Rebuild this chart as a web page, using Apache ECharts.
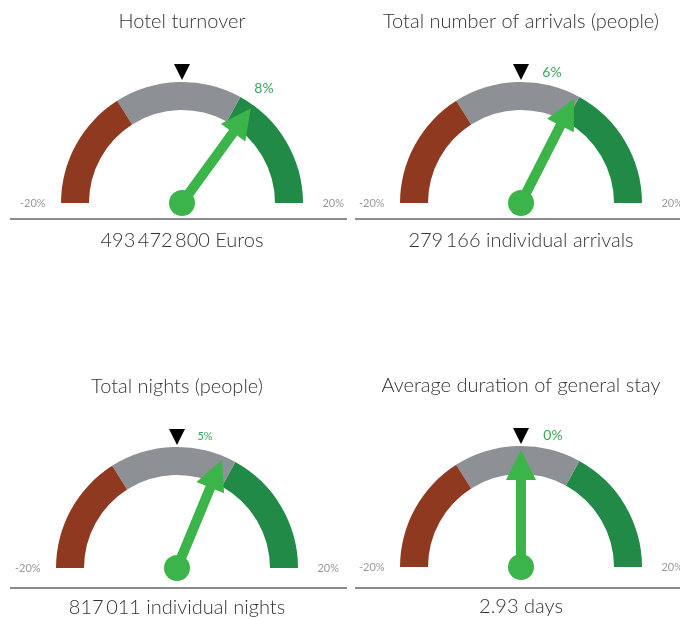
<!DOCTYPE html>
<html>
<head>
<meta charset="utf-8">
<script src="https://cdn.jsdelivr.net/npm/echarts@6/dist/echarts.min.js"></script>
<style>
	html, body { margin: 0; padding: 0; background: #fff; }
	#main { width: 680px; height: 620px; }
</style>
</head>
<body>
<div id="main"></div>
<script>
/*****  data  *****/
var names = ['Hotel turnover', 'Total number of arrivals (people)', 'Total nights (people)', 'Average duration of general stay'];
var changes = [8, 6, 5, 0];
var totals = ['493\u2009472\u2009800 Euros', '279\u2009166 individual arrivals', '817\u2009011 individual nights', '2.93 days'];
var target = 0;
var axisMin = -20;
var axisMax = 20;

/*****  layout  *****/
var centers = [[182, 203], [521, 203], [177, 568], [521, 567]];
var detailOffsets = [[82, -115], [31, -131], [28, -132], [32, -132]];
var detailSizes = [14, 14, 11, 14];

var RED = '#8f3a20', GREY = '#8d9094', GREEN = '#218a46', NEEDLE = '#3bb54a';
var FONT = 'Lato';

var chart = echarts.init(document.getElementById('main'));

var titles = [];
var series = [];
var graphics = [];

for (var i = 0; i < names.length; i++) {
	var c = centers[i];
	titles.push({
		text: names[i],
		left: c[0], top: c[1] - 191, textAlign: 'center', padding: 0,
		textStyle: { fontFamily: FONT, fontSize: 20, fontWeight: 300, color: '#333' }
	});
	titles.push({
		text: totals[i],
		left: c[0], top: c[1] + 28 + (i > 1 ? 2 : 0), textAlign: 'center', padding: 0,
		textStyle: { fontFamily: FONT, fontSize: 20, fontWeight: 300, color: '#333' }
	});

	// main gauge with the needle
	series.push({
		type: 'gauge',
		center: c,
		radius: 121,
		startAngle: 180,
		endAngle: 0,
		min: axisMin,
		max: axisMax,
		splitNumber: 1,
		axisLine: {
			lineStyle: { width: 28, color: [[0.32, RED], [0.66, GREY], [1, GREEN]] }
		},
		axisTick: { show: false },
		splitLine: { show: false, length: 0 },
		axisLabel: {
			distance: -51,
			color: '#999',
			fontFamily: FONT,
			fontSize: 11,
			formatter: '{value}%'
		},
		pointer: {
			icon: 'path://M15 0 L30 30 L20 30 L20 117 L10 117 L10 30 L0 30 Z',
			width: 30,
			length: 117,
			itemStyle: { color: NEEDLE }
		},
		anchor: { show: true, showAbove: true, size: 26, itemStyle: { color: NEEDLE } },
		title: { show: false },
		detail: {
			offsetCenter: detailOffsets[i],
			formatter: '{value}%',
			color: '#3aa857',
			fontFamily: FONT,
			fontSize: detailSizes[i],
			fontWeight: 'normal'
		},
		data: [{ value: changes[i], name: names[i] }]
	});

	// target marker (black triangle)
	series.push({
		type: 'gauge',
		center: c,
		radius: 121,
		startAngle: 180,
		endAngle: 0,
		min: axisMin,
		max: axisMax,
		axisLine: { show: false },
		axisTick: { show: false },
		splitLine: { show: false },
		axisLabel: { show: false },
		pointer: {
			icon: 'path://M0 0 L10 0 L5 10 Z',
			width: 16,
			length: 16,
			offsetCenter: [0, -123],
			itemStyle: { color: '#000' }
		},
		anchor: { show: false },
		title: { show: false },
		detail: { show: false },
		data: [{ value: target }]
	});
}

// separator lines under the gauges
var lineY = [219, 219, 588, 588];
var lineX = [[10, 347], [355, 680], [10, 347], [355, 680]];
for (var j = 0; j < 4; j++) {
	graphics.push({
		type: 'line',
		shape: { x1: lineX[j][0], y1: lineY[j], x2: lineX[j][1], y2: lineY[j] },
		style: { stroke: '#666', lineWidth: 1.5 }
	});
}

option = {
	animation: false,
	title: titles,
	graphic: graphics,
	series: series
};
chart.setOption(option);
</script>
</body>
</html>
